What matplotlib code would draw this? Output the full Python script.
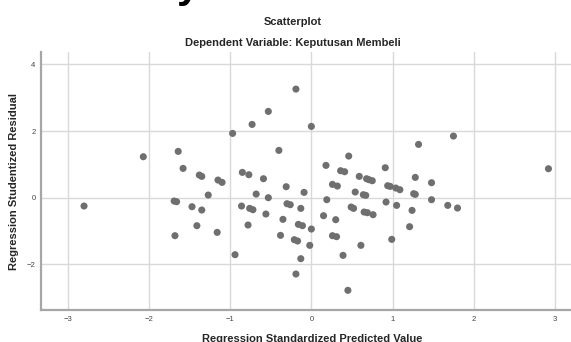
import matplotlib
matplotlib.use('Agg')
import matplotlib.pyplot as plt

# standardized predicted value (x) vs studentized residual (y)
pred = [
    -2.80, -2.07, -1.64, -1.58, -1.38, -1.35, -1.15, -1.10, -1.27, -1.69,
    -1.66, -1.47, -1.35, -1.41, -1.16, -1.68, -0.97, -0.73, -0.53, -0.85,
    -0.77, -0.40, -0.59, -0.31, -0.68, -0.53, -0.86, -0.76, -0.72, -0.56,
    -0.30, -0.26, -0.13, -0.35, -0.78, -0.16, -0.38, -0.21, -0.17,
    0.00, 1.75, 1.32, 0.46, 0.18, 0.36, 0.41, 0.91, 0.59, 0.68,
    0.71, 0.75, 1.28, 1.48, -0.09, 0.26, 0.32, 0.54, 0.64, 0.67,
    0.94, 0.97, 1.04, 1.09, 1.26, 1.28, 2.92, 0.19, 1.48, 0.49,
    0.52, 0.92, 1.05, 1.24, 1.68, 1.80, 0.65, 0.69, 0.76, 0.15,
    0.30, -0.11, 0.00, 1.21, 0.26, 0.31, 0.99, -0.02, 0.61,
    -0.94, -0.19, -0.13, 0.45, 0.39, -0.19,
]
resid = [
    -0.25, 1.23, 1.39, 0.88, 0.68, 0.64, 0.53, 0.46, 0.08, -0.10,
    -0.12, -0.27, -0.37, -0.84, -1.04, -1.14, 1.93, 2.20, 2.59, 0.76,
    0.69, 1.42, 0.57, 0.33, 0.11, 0.00, -0.25, -0.32, -0.36, -0.49,
    -0.18, -0.21, -0.32, -0.65, -0.82, -0.80, -1.13, -1.26, -1.30,
    2.14, 1.85, 1.60, 1.25, 0.97, 0.81, 0.78, 0.90, 0.64, 0.57,
    0.54, 0.51, 0.61, 0.45, 0.16, 0.40, 0.35, 0.17, 0.09, 0.07,
    0.36, 0.34, 0.29, 0.24, 0.12, 0.10, 0.87, -0.06, -0.06, -0.28,
    -0.32, -0.13, -0.23, -0.38, -0.23, -0.31, -0.43, -0.45, -0.51, -0.54,
    -0.66, -0.84, -0.94, -0.87, -1.14, -1.17, -1.25, -1.43, -1.43,
    -1.71, -2.29, -1.83, -2.78, -1.73, 3.26,
]

xticks = [-3, -2, -1, 0, 1, 2, 3]
yticks = [-2, 0, 2, 4]

plt.rcParams['font.family'] = ['Liberation Sans', 'DejaVu Sans']

fig = plt.figure(figsize=(5.71, 3.42), dpi=100)
ax = fig.add_axes([0.0718, 0.0936, 0.947, 0.755])

ax.scatter(pred, resid, s=26, color='#6f6f6f', edgecolors='none', zorder=3)

ax.set_xlim(-3.33, 3.33)
ax.set_ylim(-3.37, 4.38)
ax.set_xticks(xticks)
ax.set_yticks(yticks)
ax.grid(True, color='#d9d9d9', linewidth=1.0)
ax.set_axisbelow(True)
ax.tick_params(length=0, labelsize=5.5, labelcolor='#444444', pad=4)
for side in ['top', 'right']:
    ax.spines[side].set_visible(False)
for side in ['left', 'bottom']:
    ax.spines[side].set_color('#a6a6a6')
    ax.spines[side].set_linewidth(1.6)

fig.text(0.513, 1 - 22 / 342, 'Scatterplot', ha='center', va='center',
         fontsize=8, weight='bold', color='#262626')
fig.text(0.513, 1 - 43 / 342, 'Dependent Variable: Keputusan Membeli',
         ha='center', va='center', fontsize=8, weight='bold', color='#262626')
fig.text(14 / 571, 1 - 182 / 342, 'Regression Studentized Residual',
         rotation=90, ha='center', va='center', fontsize=8, weight='bold',
         color='#262626')
fig.text(312 / 571, 1 - 339 / 342, 'Regression Standardized Predicted Value',
         ha='center', va='center', fontsize=8, weight='bold', color='#262626')

# tail of a heading letter that sits just above the top edge
fig.text(188 / 571, 1 + 3 / 342, 'y', ha='center', va='baseline',
         fontsize=30, weight='bold', color='black')

fig.savefig('out.png', dpi=100)
